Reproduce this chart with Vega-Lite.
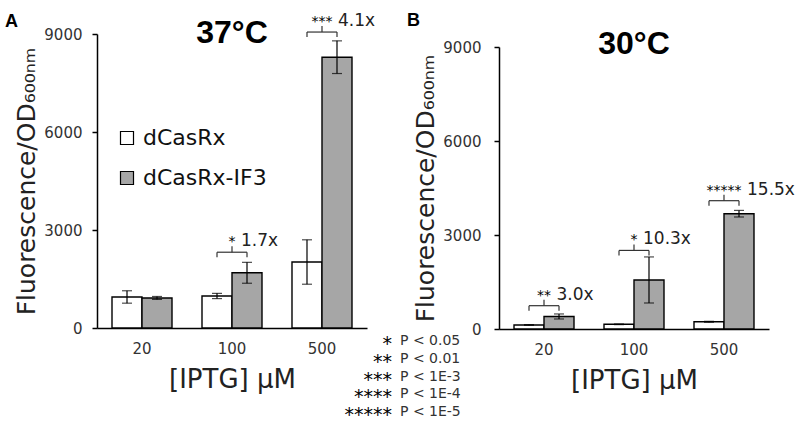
{
  "$schema": "https://vega.github.io/schema/vega-lite/v6.json",
  "width": 672,
  "height": 294,
  "autosize": "none",
  "padding": {"left": 97, "top": 34, "right": 29, "bottom": 94},
  "config": {
    "view": {"stroke": null},
    "font": "DejaVu Sans",
    "axis": {"grid": false, "domainColor": "black", "domainWidth": 1.5, "tickColor": "black", "tickWidth": 1.5, "labelColor": "#333333", "titleColor": "#222222", "labelFont": "DejaVu Sans", "titleFont": "DejaVu Sans", "titleFontWeight": "normal"},
    "axisX": {"ticks": false, "labelPadding": 13, "labelFontSize": 15, "labelAngle": 0, "titleFontSize": 26, "titlePadding": 10},
    "axisY": {"tickSize": 5, "labelPadding": 10, "labelFontSize": 15, "titleFontSize": 25, "titlePadding": 4, "format": "d"},
    "legend": {"orient": "none", "legendX": 19, "legendY": 93, "symbolType": "square", "symbolSize": 169, "symbolStrokeColor": "black", "symbolStrokeWidth": 1.2, "symbolOpacity": 1, "labelFontSize": 22, "labelFont": "DejaVu Sans", "labelColor": "#111111", "rowPadding": 18, "labelOffset": 5, "padding": 0}
  },
  "datasets": {
    "a": [
      {"iptg": "20", "series": "dCasRx", "value": 950, "lo": 760, "hi": 1140},
      {"iptg": "20", "series": "dCasRx-IF3", "value": 920, "lo": 875, "hi": 965},
      {"iptg": "100", "series": "dCasRx", "value": 980, "lo": 900, "hi": 1060},
      {"iptg": "100", "series": "dCasRx-IF3", "value": 1690, "lo": 1370, "hi": 2010},
      {"iptg": "500", "series": "dCasRx", "value": 2020, "lo": 1340, "hi": 2700},
      {"iptg": "500", "series": "dCasRx-IF3", "value": 8290, "lo": 7790, "hi": 8790}
    ],
    "b": [
      {"iptg": "20", "series": "dCasRx", "value": 130, "lo": 120, "hi": 140},
      {"iptg": "20", "series": "dCasRx-IF3", "value": 400, "lo": 320, "hi": 480},
      {"iptg": "100", "series": "dCasRx", "value": 150, "lo": 140, "hi": 160},
      {"iptg": "100", "series": "dCasRx-IF3", "value": 1565, "lo": 830, "hi": 2300},
      {"iptg": "500", "series": "dCasRx", "value": 230, "lo": 215, "hi": 245},
      {"iptg": "500", "series": "dCasRx-IF3", "value": 3680, "lo": 3575, "hi": 3785}
    ],
    "sigA": [
      {"iptg": "100", "level": 2320, "stars": "*", "n": 1, "ratio": "1.7x"},
      {"iptg": "500", "level": 9060, "stars": "***", "n": 3, "ratio": "4.1x"}
    ],
    "sigB": [
      {"iptg": "20", "level": 744, "stars": "**", "n": 2, "ratio": "3.0x"},
      {"iptg": "100", "level": 2508, "stars": "*", "n": 1, "ratio": "10.3x"},
      {"iptg": "500", "level": 4095, "stars": "*****", "n": 5, "ratio": "15.5x"}
    ]
  },
  "layer": [
    {
      "resolve": {"scale": {"xOffset": "independent"}},
      "encoding": {
        "x": {"field": "iptg", "type": "nominal", "sort": ["20", "100", "500"], "scale": {"domain": ["20", "100", "500"], "range": [0, 270], "paddingInner": 0.3333, "paddingOuter": 0.1667}, "axis": {"title": "[IPTG] µM", "orient": "bottom"}},
        "y": {"type": "quantitative", "scale": {"domain": [0, 9000], "range": [294, 0], "nice": false, "zero": true}, "axis": {"values": [0, 3000, 6000, 9000], "title": "Fluorescence/OD₆₀₀ₙₘ", "orient": "left"}}
      },
      "layer": [
        {
          "data": {"name": "a"},
          "mark": {"type": "bar", "stroke": "black", "strokeWidth": 1.4},
          "encoding": {
            "xOffset": {"field": "series", "type": "nominal", "scale": {"domain": ["dCasRx", "dCasRx-IF3"], "paddingInner": 0, "paddingOuter": 0}},
            "y": {"field": "value", "type": "quantitative"},
            "color": {"field": "series", "type": "nominal", "scale": {"domain": ["dCasRx", "dCasRx-IF3"], "range": ["#ffffff", "#a6a6a6"]}, "legend": {"title": null}}
          }
        },
        {
          "data": {"name": "a"},
          "mark": {"type": "rule", "color": "black", "strokeWidth": 1.2},
          "encoding": {
            "xOffset": {"field": "series", "type": "nominal", "scale": {"domain": ["dCasRx", "dCasRx-IF3"], "paddingInner": 0, "paddingOuter": 0}},
            "y": {"field": "lo", "type": "quantitative"},
            "y2": {"field": "hi"}
          }
        },
        {
          "data": {"name": "a"},
          "mark": {"type": "tick", "color": "black", "size": 10, "thickness": 1.2},
          "encoding": {
            "xOffset": {"field": "series", "type": "nominal", "scale": {"domain": ["dCasRx", "dCasRx-IF3"], "paddingInner": 0, "paddingOuter": 0}},
            "y": {"field": "lo", "type": "quantitative"}
          }
        },
        {
          "data": {"name": "a"},
          "mark": {"type": "tick", "color": "black", "size": 10, "thickness": 1.2},
          "encoding": {
            "xOffset": {"field": "series", "type": "nominal", "scale": {"domain": ["dCasRx", "dCasRx-IF3"], "paddingInner": 0, "paddingOuter": 0}},
            "y": {"field": "hi", "type": "quantitative"}
          }
        },
        {
          "data": {"name": "sigA"},
          "mark": {"type": "rule", "color": "#333333", "strokeWidth": 1.2, "xOffset": -15, "x2Offset": 15},
          "encoding": {
            "x": {"field": "iptg", "type": "nominal", "bandPosition": 0.5},
            "x2": {"field": "iptg", "bandPosition": 0.5},
            "y": {"field": "level", "type": "quantitative"}
          }
        },
        {
          "data": {"name": "sigA"},
          "mark": {"type": "rule", "color": "#333333", "strokeWidth": 1.2, "xOffset": -15, "y2Offset": 5},
          "encoding": {
            "x": {"field": "iptg", "type": "nominal", "bandPosition": 0.5},
            "y": {"field": "level", "type": "quantitative"},
            "y2": {"field": "level"}
          }
        },
        {
          "data": {"name": "sigA"},
          "mark": {"type": "rule", "color": "#333333", "strokeWidth": 1.2, "xOffset": 15, "y2Offset": 5},
          "encoding": {
            "x": {"field": "iptg", "type": "nominal", "bandPosition": 0.5},
            "y": {"field": "level", "type": "quantitative"},
            "y2": {"field": "level"}
          }
        },
        {
          "data": {"name": "sigA"},
          "mark": {"type": "rule", "color": "#333333", "strokeWidth": 1.2, "y2Offset": -6},
          "encoding": {
            "x": {"field": "iptg", "type": "nominal", "bandPosition": 0.5},
            "y": {"field": "level", "type": "quantitative"},
            "y2": {"field": "level"}
          }
        },
        {
          "data": {"name": "sigA"},
          "mark": {"type": "text", "fontSize": 14, "dy": -6, "baseline": "alphabetic", "align": "center", "color": "black"},
          "encoding": {
            "x": {"field": "iptg", "type": "nominal", "bandPosition": 0.5},
            "y": {"field": "level", "type": "quantitative"},
            "text": {"field": "stars"}
          }
        },
        {
          "data": {"name": "sigA"},
          "mark": {"type": "text", "fontSize": 17, "dy": -6, "baseline": "alphabetic", "align": "left", "color": "#222222"},
          "encoding": {
            "x": {"field": "iptg", "type": "nominal"},
            "xOffset": {"field": "n", "type": "quantitative", "scale": {"domain": [0, 5], "range": [35.5, 53]}},
            "y": {"field": "level", "type": "quantitative"},
            "text": {"field": "ratio"}
          }
        },
        {
          "data": {"values": [{}]},
          "mark": {"type": "text", "text": "37°C", "font": "Liberation Sans", "fontWeight": "bold", "fontSize": 32, "align": "center", "baseline": "alphabetic", "dy": 9, "color": "black"},
          "encoding": {"x": {"datum": "100", "type": "nominal"}, "y": {"datum": 9000, "type": "quantitative"}}
        },
        {
          "data": {"values": [{}]},
          "mark": {"type": "text", "text": "A", "font": "Liberation Sans", "fontWeight": "bold", "fontSize": 18, "align": "left", "baseline": "alphabetic", "dx": -137, "dy": -7, "color": "black"},
          "encoding": {"x": {"datum": "20", "type": "nominal"}, "y": {"datum": 9000, "type": "quantitative"}}
        },
        {
          "data": {"values": [{}]},
          "mark": {"type": "text", "text": ["*", "**", "***", "****", "*****"], "fontSize": 19, "align": "right", "baseline": "alphabetic", "lineHeight": 17.8, "dx": 70, "dy": 22, "color": "black"},
          "encoding": {"x": {"datum": "500", "type": "nominal"}, "y": {"datum": 0, "type": "quantitative"}}
        },
        {
          "data": {"values": [{}]},
          "mark": {"type": "text", "text": ["P < 0.05", "P < 0.01", "P < 1E-3", "P < 1E-4", "P < 1E-5"], "fontSize": 14, "align": "left", "baseline": "alphabetic", "lineHeight": 17.8, "dx": 78, "dy": 17, "color": "#333333"},
          "encoding": {"x": {"datum": "500", "type": "nominal"}, "y": {"datum": 0, "type": "quantitative"}}
        }
      ]
    },
    {
      "resolve": {"scale": {"xOffset": "independent"}},
      "encoding": {
        "x": {"field": "iptg", "type": "nominal", "sort": ["20", "100", "500"], "scale": {"domain": ["20", "100", "500"], "range": [402, 672], "paddingInner": 0.3333, "paddingOuter": 0.1667}, "axis": {"title": "[IPTG] µM", "orient": "bottom", "offset": 1}},
        "y": {"type": "quantitative", "scale": {"domain": [0, 9000], "range": [295, 13], "nice": false, "zero": true}, "axis": {"values": [0, 3000, 6000, 9000], "title": "Fluorescence/OD₆₀₀ₙₘ", "orient": "left", "offset": -402, "labelPadding": 13}}
      },
      "layer": [
        {
          "data": {"name": "b"},
          "mark": {"type": "bar", "stroke": "black", "strokeWidth": 1.4},
          "encoding": {
            "xOffset": {"field": "series", "type": "nominal", "scale": {"domain": ["dCasRx", "dCasRx-IF3"], "paddingInner": 0, "paddingOuter": 0}},
            "y": {"field": "value", "type": "quantitative"},
            "color": {"field": "series", "type": "nominal", "scale": {"domain": ["dCasRx", "dCasRx-IF3"], "range": ["#ffffff", "#a6a6a6"]}, "legend": {"title": null}}
          }
        },
        {
          "data": {"name": "b"},
          "mark": {"type": "rule", "color": "black", "strokeWidth": 1.2},
          "encoding": {
            "xOffset": {"field": "series", "type": "nominal", "scale": {"domain": ["dCasRx", "dCasRx-IF3"], "paddingInner": 0, "paddingOuter": 0}},
            "y": {"field": "lo", "type": "quantitative"},
            "y2": {"field": "hi"}
          }
        },
        {
          "data": {"name": "b"},
          "mark": {"type": "tick", "color": "black", "size": 10, "thickness": 1.2},
          "encoding": {
            "xOffset": {"field": "series", "type": "nominal", "scale": {"domain": ["dCasRx", "dCasRx-IF3"], "paddingInner": 0, "paddingOuter": 0}},
            "y": {"field": "lo", "type": "quantitative"}
          }
        },
        {
          "data": {"name": "b"},
          "mark": {"type": "tick", "color": "black", "size": 10, "thickness": 1.2},
          "encoding": {
            "xOffset": {"field": "series", "type": "nominal", "scale": {"domain": ["dCasRx", "dCasRx-IF3"], "paddingInner": 0, "paddingOuter": 0}},
            "y": {"field": "hi", "type": "quantitative"}
          }
        },
        {
          "data": {"name": "sigB"},
          "mark": {"type": "rule", "color": "#333333", "strokeWidth": 1.2, "xOffset": -15, "x2Offset": 15},
          "encoding": {
            "x": {"field": "iptg", "type": "nominal", "bandPosition": 0.5},
            "x2": {"field": "iptg", "bandPosition": 0.5},
            "y": {"field": "level", "type": "quantitative"}
          }
        },
        {
          "data": {"name": "sigB"},
          "mark": {"type": "rule", "color": "#333333", "strokeWidth": 1.2, "xOffset": -15, "y2Offset": 5},
          "encoding": {
            "x": {"field": "iptg", "type": "nominal", "bandPosition": 0.5},
            "y": {"field": "level", "type": "quantitative"},
            "y2": {"field": "level"}
          }
        },
        {
          "data": {"name": "sigB"},
          "mark": {"type": "rule", "color": "#333333", "strokeWidth": 1.2, "xOffset": 15, "y2Offset": 5},
          "encoding": {
            "x": {"field": "iptg", "type": "nominal", "bandPosition": 0.5},
            "y": {"field": "level", "type": "quantitative"},
            "y2": {"field": "level"}
          }
        },
        {
          "data": {"name": "sigB"},
          "mark": {"type": "rule", "color": "#333333", "strokeWidth": 1.2, "y2Offset": -6},
          "encoding": {
            "x": {"field": "iptg", "type": "nominal", "bandPosition": 0.5},
            "y": {"field": "level", "type": "quantitative"},
            "y2": {"field": "level"}
          }
        },
        {
          "data": {"name": "sigB"},
          "mark": {"type": "text", "fontSize": 14, "dy": -6, "baseline": "alphabetic", "align": "center", "color": "black"},
          "encoding": {
            "x": {"field": "iptg", "type": "nominal", "bandPosition": 0.5},
            "y": {"field": "level", "type": "quantitative"},
            "text": {"field": "stars"}
          }
        },
        {
          "data": {"name": "sigB"},
          "mark": {"type": "text", "fontSize": 17, "dy": -6, "baseline": "alphabetic", "align": "left", "color": "#222222"},
          "encoding": {
            "x": {"field": "iptg", "type": "nominal"},
            "xOffset": {"field": "n", "type": "quantitative", "scale": {"domain": [0, 5], "range": [35.5, 53]}},
            "y": {"field": "level", "type": "quantitative"},
            "text": {"field": "ratio"}
          }
        },
        {
          "data": {"values": [{}]},
          "mark": {"type": "text", "text": "30°C", "font": "Liberation Sans", "fontWeight": "bold", "fontSize": 32, "align": "center", "baseline": "alphabetic", "dy": 7, "color": "black"},
          "encoding": {"x": {"datum": "100", "type": "nominal"}, "y": {"datum": 9000, "type": "quantitative"}}
        },
        {
          "data": {"values": [{}]},
          "mark": {"type": "text", "text": "B", "font": "Liberation Sans", "fontWeight": "bold", "fontSize": 18, "align": "left", "baseline": "alphabetic", "dx": -137, "dy": -20.6, "color": "black"},
          "encoding": {"x": {"datum": "20", "type": "nominal"}, "y": {"datum": 9000, "type": "quantitative"}}
        }
      ]
    }
  ],
  "resolve": {"scale": {"x": "independent", "y": "independent"}, "axis": {"x": "independent", "y": "independent"}}
}
